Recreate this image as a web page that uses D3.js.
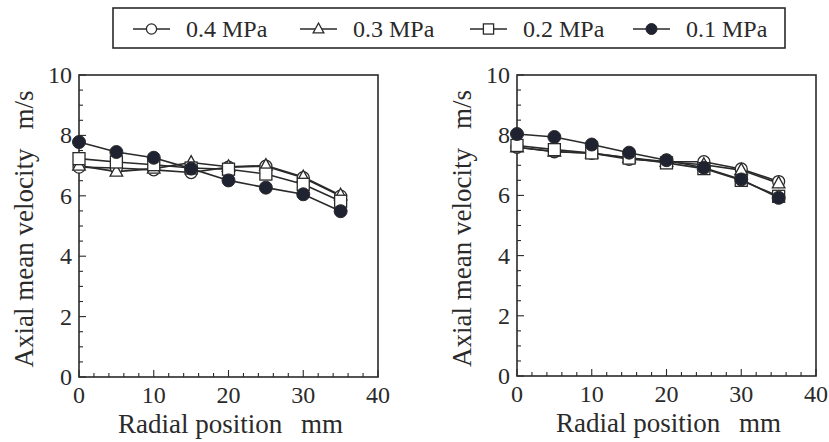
<!DOCTYPE html>
<html><head><meta charset="utf-8">
<script src="https://cdn.jsdelivr.net/npm/d3@7"></script>
<style>body{margin:0;background:#fff}</style>
</head><body>
<svg id="c" width="829" height="442"></svg>
<script>
const positions = [0, 5, 10, 15, 20, 25, 30, 35];
const seriesNames = ["0.4 MPa", "0.3 MPa", "0.2 MPa", "0.1 MPa"];
const seriesMarkers = ["circle", "triangle", "square", "filled"];
// Left panel
const left04 = [6.95, 6.92, 6.86, 6.77, 6.95, 6.98, 6.60, 5.99];
const left03 = [7.00, 6.80, 6.90, 7.10, 6.96, 7.00, 6.62, 6.02];
const left02 = [7.23, 7.12, 7.03, 6.92, 6.88, 6.72, 6.38, 5.82];
const left01 = [7.78, 7.45, 7.26, 6.90, 6.51, 6.27, 6.05, 5.49];
// Right panel
const right04 = [7.60, 7.45, 7.40, 7.20, 7.12, 7.12, 6.88, 6.46];
const right03 = [7.60, 7.46, 7.40, 7.25, 7.12, 7.02, 6.84, 6.40];
const right02 = [7.66, 7.52, 7.41, 7.24, 7.08, 6.89, 6.50, 5.97];
const right01 = [8.04, 7.94, 7.69, 7.42, 7.17, 6.92, 6.53, 5.92];
const xTicks = [0, 10, 20, 30, 40];
const yTicks = [0, 2, 4, 6, 8, 10];
const xTitle = "Radial position\u2002\u2009mm";
const yTitle = "Axial mean velocity\u2002\u2009m/s";

const svg = d3.select("#c");
const ink = "#2a2a2a";
const font = "'Liberation Serif', 'Times New Roman', serif";

function panel(x0, x1, y0, y1, data) {
  const x = d3.scaleLinear().domain([0, 40]).range([x0, x1]);
  const y = d3.scaleLinear().domain([0, 10]).range([y1, y0]);
  const g = svg.append("g");
  g.append("rect").attr("x", x0).attr("y", y0).attr("width", x1 - x0).attr("height", y1 - y0)
    .attr("fill", "none").attr("stroke", ink).attr("stroke-width", 1.6);
  const xMinor = d3.range(0, 40.1, 2);
  g.selectAll(".xm").data(xMinor).enter().append("line")
    .attr("x1", d => x(d)).attr("x2", d => x(d))
    .attr("y1", y1).attr("y2", d => y1 - (d % 10 === 0 ? 7 : 4))
    .attr("stroke", ink).attr("stroke-width", 1.1);
  const yMinor = d3.range(0, 10.01, 0.5);
  g.selectAll(".ym").data(yMinor).enter().append("line")
    .attr("y1", d => y(d)).attr("y2", d => y(d))
    .attr("x1", x0).attr("x2", d => x0 + (d % 2 === 0 ? 7 : 4))
    .attr("stroke", ink).attr("stroke-width", 1.1);
  g.selectAll(".xl").data(xTicks).enter().append("text")
    .attr("x", d => x(d)).attr("y", y1 + 26).attr("text-anchor", "middle")
    .attr("font-family", font).attr("font-size", 24).attr("fill", ink).text(d => d);
  g.selectAll(".yl").data(yTicks).enter().append("text")
    .attr("x", x0 - 7).attr("y", d => y(d) + 8).attr("text-anchor", "end")
    .attr("font-family", font).attr("font-size", 24).attr("fill", ink).text(d => d);
  g.append("text").attr("x", (x0 + x1) / 2 + 2).attr("y", y1 + 56).attr("text-anchor", "middle")
    .attr("font-family", font).attr("font-size", 27).attr("fill", ink).text(xTitle);
  g.append("text").attr("transform", `translate(${x0 - 46},${(y0 + y1) / 2 + 3}) rotate(-90)`)
    .attr("text-anchor", "middle").attr("font-family", font).attr("font-size", 27).attr("fill", ink).text(yTitle);
  const line = d3.line().x((d, i) => x(positions[i])).y(d => y(d));
  data.forEach((vals) => {
    g.append("path").attr("d", line(vals)).attr("fill", "none").attr("stroke", ink).attr("stroke-width", 1.6);
  });
  data.forEach((vals, si) => {
    vals.forEach((v, i) => drawMarker(g, seriesMarkers[si], x(positions[i]), y(v), 1));
  });
}

function drawMarker(g, type, cx, cy, s) {
  if (type === "circle") {
    g.append("circle").attr("cx", cx).attr("cy", cy).attr("r", 6 * s).attr("fill", "#fff").attr("stroke", ink).attr("stroke-width", 1.3);
  } else if (type === "filled") {
    g.append("circle").attr("cx", cx).attr("cy", cy).attr("r", 6.5 * s).attr("fill", "#1f2230").attr("stroke", ink).attr("stroke-width", 1);
  } else if (type === "square") {
    const h = 6 * s;
    g.append("rect").attr("x", cx - h).attr("y", cy - h).attr("width", 2 * h).attr("height", 2 * h).attr("fill", "#fff").attr("stroke", ink).attr("stroke-width", 1.3);
  } else {
    const h = 7 * s;
    g.append("path").attr("d", `M${cx},${cy - h}L${cx + h * 0.9},${cy + h * 0.65}L${cx - h * 0.9},${cy + h * 0.65}Z`)
      .attr("fill", "#fff").attr("stroke", ink).attr("stroke-width", 1.3);
  }
}

panel(79, 378, 75, 377, [left04, left03, left02, left01]);
panel(517, 816, 75, 376, [right04, right03, right02, right01]);

const lg = svg.append("g");
lg.append("rect").attr("x", 113).attr("y", 8).attr("width", 672).attr("height", 40)
  .attr("fill", "none").attr("stroke", ink).attr("stroke-width", 1.6);
const legX = [133, 300, 470, 633];
seriesNames.forEach((n, i) => {
  const lx = legX[i];
  lg.append("line").attr("x1", lx).attr("x2", lx + 37).attr("y1", 29).attr("y2", 29).attr("stroke", ink).attr("stroke-width", 1.5);
  drawMarker(lg, seriesMarkers[i], lx + 18.5, 29, 0.85);
  lg.append("text").attr("x", lx + 53).attr("y", 37).attr("font-family", font).attr("font-size", 24).attr("fill", ink).text(n);
});
</script>
</body></html>
